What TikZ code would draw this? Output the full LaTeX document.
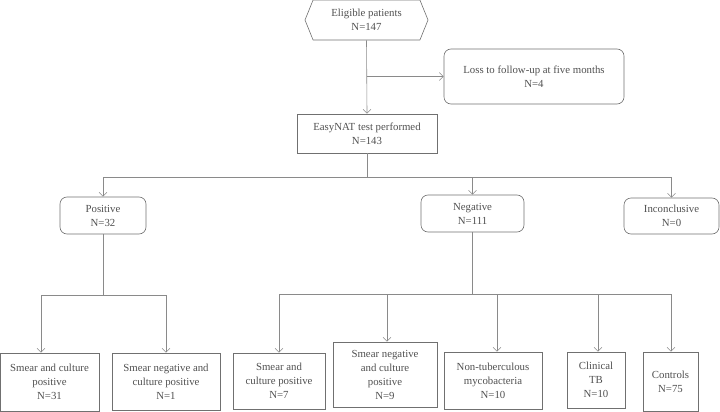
\documentclass[tikz,border=0pt]{standalone}
\usepackage{fontspec}
\setmainfont{Liberation Serif}
\usetikzlibrary{positioning,calc,shapes.symbols,arrows.meta}
\definecolor{lineg}{HTML}{8A8A8A}
\definecolor{boxg}{HTML}{707070}
\definecolor{textg}{HTML}{505050}
\tikzset{
  every picture/.style={line width=0.6pt},
  sbox/.style={draw=boxg, text=textg, align=center, inner sep=0pt,
               font=\fontsize{10.8}{14}\selectfont},
  srbox/.style={sbox, rounded corners=7pt},
  shex/.style={sbox, signal, signal to=west and east, signal pointer angle=136},
  sline/.style={draw=lineg},
  sarr/.style={sline, -{Straight Barb[length=4pt,width=8pt]}},
}

\begin{document}
\begin{tikzpicture}[x=1pt,y=-1pt]
  \useasboundingbox (0,0) rectangle (720,412);
  % top part
  \node[shex, minimum width=123pt, minimum height=40pt] (elig) at (366.5,20) {Eligible patients\\N=147};
  \node[srbox, minimum width=180pt, minimum height=55pt] (loss) at (534,76.5) {Loss to follow-up at five months\\N=4};
  \node[sbox, minimum width=140pt, minimum height=39pt] (easy) at (367,133.5) {EasyNAT test performed\\N=143};
  \draw[sarr] (elig.south) -- (easy.north);
  \draw[sarr] (elig.south |- loss.west) -- (loss.west);
  % test results
  \node[srbox, minimum width=86pt, minimum height=37pt] (pos) at (103,215.5) {Positive\\N=32};
  \node[srbox, minimum width=103pt, minimum height=37pt] (neg) at (472.5,213.5) {Negative\\N=111};
  \node[srbox, minimum width=95pt, minimum height=36pt] (inc) at (671.5,216) {Inconclusive\\N=0};
  \coordinate (tL) at (103,177);
  \coordinate (tR) at (671.5,177);
  \draw[sline] (easy.south) -- (easy.south |- tL);
  \draw[sline] (tL) -- (tR);
  \draw[sarr] (tL) -- (pos.north);
  \draw[sarr] (neg.north |- tL) -- (neg.north);
  \draw[sarr] (tR) -- (inc.north);
  % positive branch
  \node[sbox, minimum width=99pt, minimum height=58pt] (p1) at (49.5,382) {Smear and culture\\positive\\N=31};
  \node[sbox, minimum width=108pt, minimum height=57pt] (p2) at (166,381.5) {Smear negative and\\culture positive\\N=1};
  \coordinate (bA) at (41,295);
  \coordinate (bB) at (166,295);
  \draw[sline] (pos.south) -- (pos.south |- bA);
  \draw[sline] (bA) -- (bB);
  \draw[sarr] (bA) -- (bA |- p1.north);
  \draw[sarr] (bB) -- (p2.north);
  % negative branch
  \node[sbox, minimum width=92pt, minimum height=56pt] (n1) at (279,381) {Smear and\\culture positive\\N=7};
  \node[sbox, minimum width=104pt, minimum height=65pt] (n2) at (385,374.5) {Smear negative\\and culture\\positive\\N=9};
  \node[sbox, minimum width=98pt, minimum height=57pt] (n3) at (493,380.5) {Non-tuberculous\\mycobacteria\\N=10};
  \node[sbox, minimum width=58pt, minimum height=56pt] (n4) at (596,380) {Clinical\\TB\\N=10};
  \node[sbox, minimum width=55pt, minimum height=59pt] (n5) at (670.5,381.5) {Controls\\N=75};
  \coordinate (cN1) at (279,294);
  \coordinate (cN2) at (387,294);
  \coordinate (cN3) at (497,294);
  \coordinate (cN4) at (598,294);
  \coordinate (cN5) at (671,294);
  \draw[sline] (neg.south) -- (neg.south |- cN1);
  \draw[sline] (cN1) -- (cN5);
  \draw[sarr] (cN1) -- (n1.north);
  \draw[sarr] (cN2) -- (cN2 |- n2.north);
  \draw[sarr] (cN3) -- (cN3 |- n3.north);
  \draw[sarr] (cN4) -- (cN4 |- n4.north);
  \draw[sarr] (cN5) -- (cN5 |- n5.north);
\end{tikzpicture}
\end{document}
